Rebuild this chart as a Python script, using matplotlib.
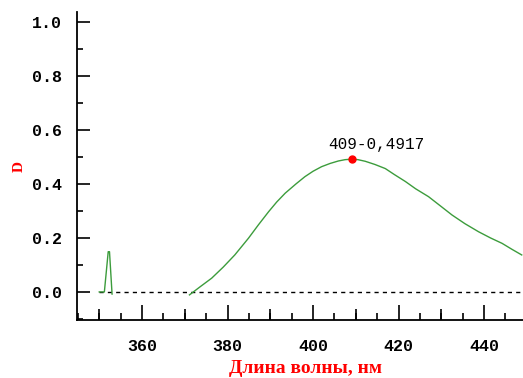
import matplotlib.pyplot as plt
from matplotlib.ticker import MultipleLocator

# small peak near 352 nm
peak_x = [350.0, 351.2, 352.1, 352.4, 353.0]
peak_y = [0.0, 0.0, 0.149, 0.149, -0.008]

# main absorption band
band_x = [371.1, 373.5, 376.3, 379.0, 381.7, 384.9, 387.2, 389.6, 391.5, 393.5, 396.0,
          398.1, 400.0, 402.0, 404.0, 405.9, 407.5, 409.0, 410.5, 412.2, 414.5, 416.9,
          419.0, 421.6, 424.0, 427.0, 430.0, 432.5, 435.5, 438.7, 441.5, 444.2, 446.5, 448.8]
band_y = [-0.011, 0.018, 0.051, 0.092, 0.137, 0.199, 0.248, 0.297, 0.333, 0.366, 0.400,
          0.427, 0.447, 0.464, 0.476, 0.485, 0.490, 0.4917, 0.490, 0.484, 0.472, 0.457,
          0.435, 0.409, 0.382, 0.353, 0.316, 0.285, 0.253, 0.223, 0.200, 0.180, 0.158, 0.137]

max_x, max_y = 409, 0.4917
label = "409-0,4917"

fig = plt.figure(figsize=(5.23, 3.78), dpi=100)
ax = fig.add_axes([77 / 523, 58 / 378, 446 / 523, 308 / 378])

green = "#3c9c3c"
ax.plot(peak_x, peak_y, color=green, lw=1)
ax.plot(band_x, band_y, color=green, lw=1)
ax.plot([350, 449.1], [0, 0], color="black", lw=1, ls=(0, (3, 3)), zorder=1)
ax.plot(max_x, max_y, "o", color="red", ms=5, zorder=3)
ax.text(max_x - 5.5, max_y + 0.025, label, fontsize=11.5, family="Liberation Mono",
        ha="left", va="bottom")

ax.set_xlim(344.8, 449.1)
ax.set_ylim(-0.104, 1.037)

for s in ["top", "right"]:
    ax.spines[s].set_visible(False)
for s in ["left", "bottom"]:
    ax.spines[s].set_linewidth(1.3)

ax.xaxis.set_major_locator(MultipleLocator(20))
ax.xaxis.set_minor_locator(MultipleLocator(5))
ax.yaxis.set_major_locator(MultipleLocator(0.2))
ax.yaxis.set_minor_locator(MultipleLocator(0.1))
ax.yaxis.set_major_formatter(lambda v, p: "%.1f" % v)

ax.tick_params(which="major", direction="in", width=1.2, colors="black")
ax.tick_params(axis="x", which="major", length=11, pad=14)
ax.tick_params(axis="x", which="minor", direction="in", length=5, width=1.2)
ax.tick_params(axis="y", which="major", length=9.5, pad=11)
ax.tick_params(axis="y", which="minor", direction="in", length=4.5, width=1.2)

# medium ticks every 10 nm
sec = ax.secondary_xaxis("bottom")
sec.set_xticks([350, 370, 390, 410, 430])
sec.tick_params(direction="in", length=8, width=1.2, labelbottom=False)
sec.spines["bottom"].set_visible(False)

for t in ax.get_xticklabels() + ax.get_yticklabels():
    t.set_family("Liberation Mono")
    t.set_fontweight("bold")
    t.set_fontsize(12)

ax.set_xlabel("Длина волны, нм", color="red", family="Liberation Serif",
              fontweight="bold", fontsize=14, va="center")
ax.xaxis.set_label_coords(0.512, -0.157)
ax.set_ylabel("D", color="red", family="Liberation Serif", fontweight="bold",
              fontsize=11, va="center")
ax.yaxis.set_label_coords(-0.13, 0.5)

fig.savefig("out.png", dpi=100)
